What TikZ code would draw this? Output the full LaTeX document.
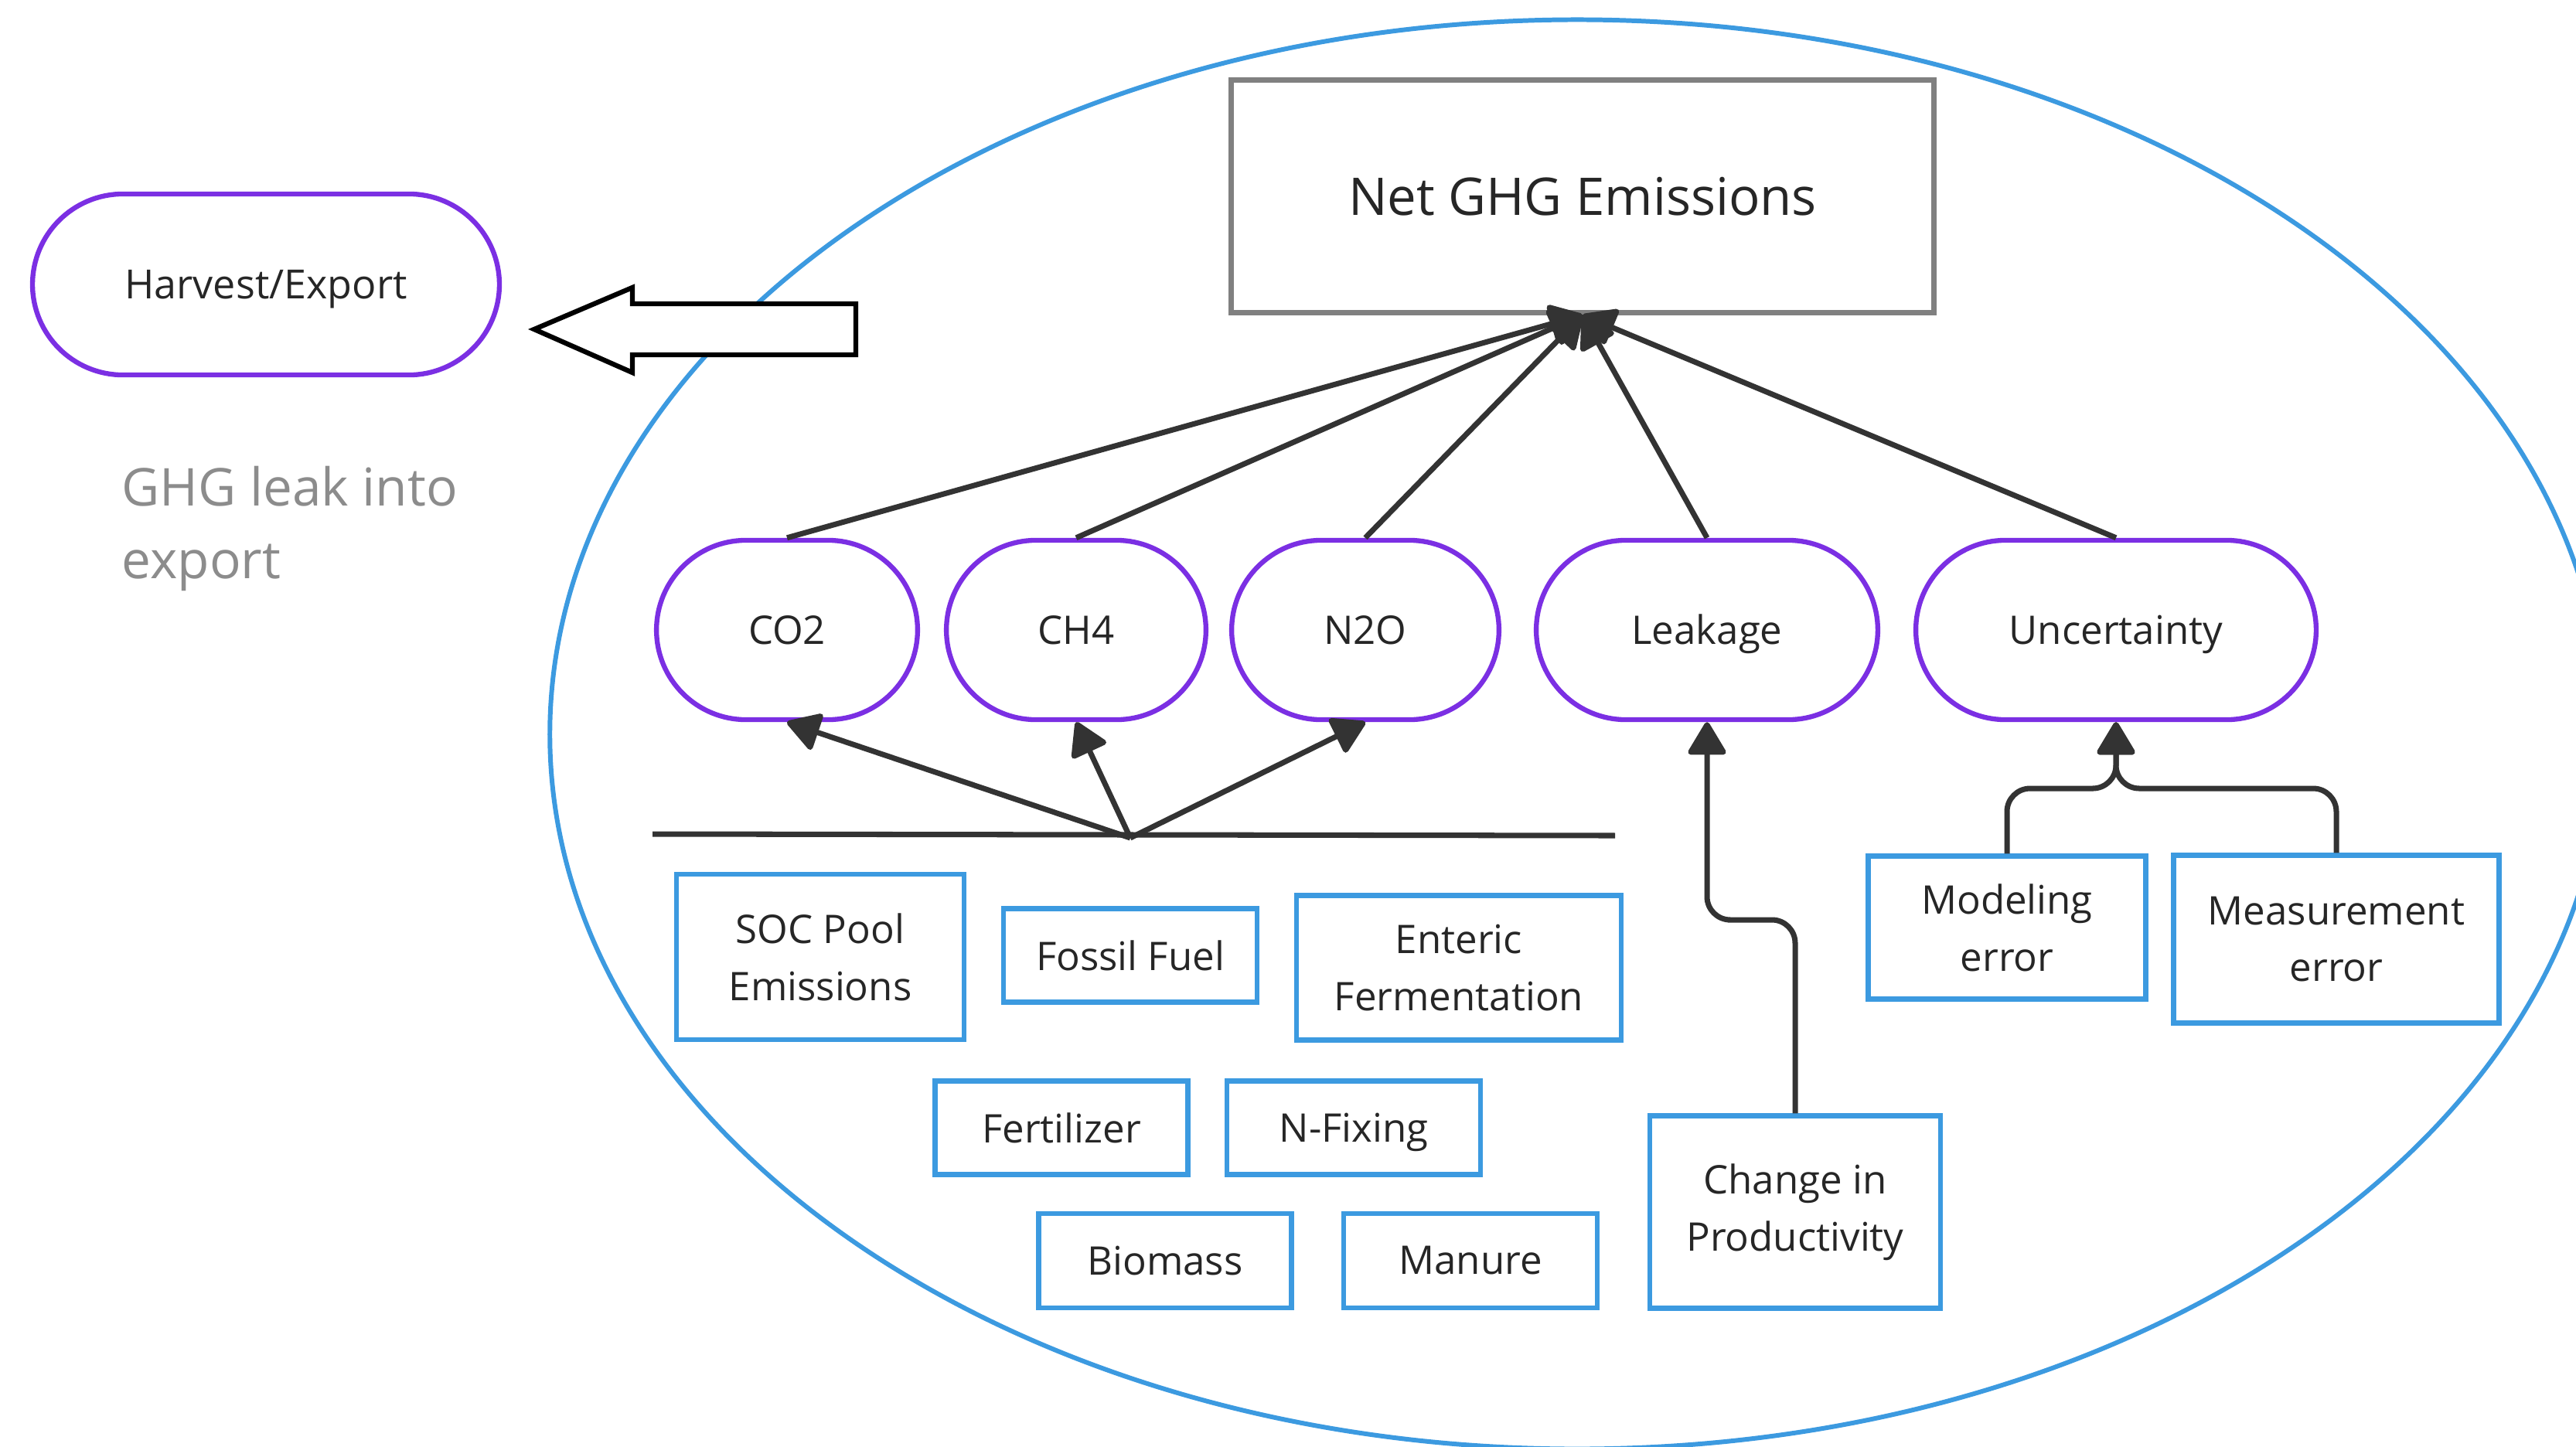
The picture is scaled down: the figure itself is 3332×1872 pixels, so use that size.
\documentclass[tikz,border=0pt]{standalone}
\usepackage{fontspec}
\setmainfont{Open Sans}
\usepackage{xcolor}
\usetikzlibrary{shapes.misc,arrows.meta}

\definecolor{pillviolet}{HTML}{7B2FE3}
\definecolor{boxblue}{HTML}{3C9AE0}
\definecolor{inkgray}{HTML}{333333}

\begin{document}
\begin{tikzpicture}[
            x=0.01cm, y=-0.01cm,
            pill/.style={draw=pillviolet, line width=1.8pt, rounded rectangle, minimum height=2.32cm, text height=10.4pt, text depth=0pt, font=\fontsize{14.5}{21}\selectfont, text=black!85},
            box/.style={draw=boxblue, line width=1.8pt, rectangle, align=center, font=\fontsize{14.5}{21}\selectfont, text=black!85},
            oneline/.style={text height=10.4pt, text depth=0pt},
            arrow/.style={-{Triangle[length=13pt,width=15pt,round]}, line width=2pt, draw=inkgray},
            region/.style={draw=boxblue, line width=1.7pt}
        ]
            \clip (0,0) rectangle (3332,1872);

            % System boundary
            \draw[region] (2040,950) ellipse [x radius=13.28cm, y radius=9.24cm];

            \node[draw=black!50, line width=2pt, minimum width=9.09cm, minimum height=3cm, font=\fontsize{19.1}{23}\selectfont, text=black!85] (net) at (2047,254) {Net GHG Emissions};

            \node[pill, minimum width=6.27cm, minimum height=2.34cm, font=\fontsize{14.8}{18}\selectfont] (harvest) at (344,368) {Harvest/Export};
            \node[anchor=west, inner sep=0pt, align=left, text=black!45, font=\fontsize{19.2}{26.7}\selectfont] (leaknote) at (157,684) {GHG leak into\\export};

            % Export arrow
            \draw[line width=1.8pt, fill=white, line join=miter] (1107,393) -- (818,393) -- (818,372) -- (691,426) -- (818,482) -- (818,459) -- (1107,459) -- cycle;

            % Gases and terms
            \node[pill, minimum width=3.61cm] (co2) at (1018,815) {CO2};
            \node[pill, minimum width=3.59cm] (ch4) at (1392,815) {CH4};
            \node[pill, minimum width=3.69cm] (n2o) at (1766,815) {N2O};
            \node[pill, minimum width=4.65cm] (leak) at (2208,815) {Leakage};
            \node[pill, minimum width=5.41cm] (unc) at (2737,815) {Uncertainty};

            % Sources
            \node[box, minimum width=3.72cm, minimum height=2.14cm] (soc) at (1061,1238) {SOC Pool\\Emissions};
            \node[box, minimum width=3.28cm, minimum height=1.21cm] (fossil) at (1462,1236) {Fossil Fuel};
            \node[box, minimum width=4.20cm, minimum height=1.87cm] (enteric) at (1887,1252) {Enteric\\Fermentation};
            \node[box, minimum width=3.27cm, minimum height=1.21cm] (fert) at (1373,1459) {Fertilizer};
            \node[box, oneline, minimum width=3.28cm, minimum height=1.21cm] (nfix) at (1751,1459) {N-Fixing};
            \node[box, minimum width=3.27cm, minimum height=1.22cm] (biomass) at (1507,1631) {Biomass};
            \node[box, minimum width=3.28cm, minimum height=1.22cm] (manure) at (1902,1631) {Manure};
            \node[box, minimum width=3.76cm, minimum height=2.49cm] (change) at (2322,1568) {Change in\\Productivity};
            \node[box, minimum width=3.59cm, minimum height=1.85cm] (model) at (2596,1200) {Modeling\\error};
            \node[box, minimum width=4.21cm, minimum height=2.17cm] (meas) at (3022,1215) {Measurement\\error};

            \coordinate (barL) at (844,1079);
            \coordinate (barR) at (2089,1081);
            \coordinate (hub) at (1462,1084);
            \coordinate (leakbend) at (2265,1190);
            \coordinate (uncjoin) at (2737,1020);

            \draw[line width=2pt, draw=inkgray] (barL) -- (barR);
            \draw[arrow] (hub) -- (co2.south);
            \draw[arrow] (hub) -- (ch4.south);
            \draw[arrow] (hub) -- (n2o.south);

            \draw[arrow] (co2.north) -- (net.south);
            \draw[arrow] (ch4.north) -- (net.south);
            \draw[arrow] (n2o.north) -- (net.south);
            \draw[arrow] (leak.north) -- (net.south);
            \draw[arrow] (unc.north) -- (net.south);

            \draw[arrow, rounded corners=0.3cm] (change.north) |- (leakbend) -| (leak.south);
            \draw[arrow, rounded corners=0.3cm] (model.north) |- (uncjoin) -- (unc.south);
            \draw[arrow, rounded corners=0.3cm] (meas.north) |- (uncjoin) -- (unc.south);
        \end{tikzpicture}
\end{document}
